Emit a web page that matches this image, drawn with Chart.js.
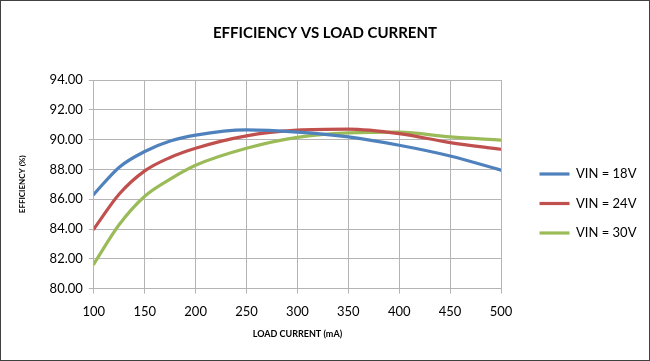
<!DOCTYPE html>
<html>
<head>
<meta charset="utf-8">
<script src="https://cdn.jsdelivr.net/npm/chart.js@4"></script>
<style>
  html, body { margin: 0; padding: 0; background: #fff; }
</style>
</head>
<body>
<canvas id="chart" width="650" height="361"></canvas>
<script>
const loadCurrent = [100, 125, 150, 175, 200, 250, 300, 350, 400, 450, 500];
const vin18 = [86.33, 88.15, 89.2, 89.9, 90.3, 90.65, 90.5, 90.18, 89.62, 88.9, 87.95];
const vin24 = [84.0, 86.35, 87.9, 88.8, 89.42, 90.25, 90.63, 90.7, 90.4, 89.8, 89.35];
const vin30 = [81.65, 84.3, 86.2, 87.35, 88.28, 89.42, 90.15, 90.45, 90.5, 90.18, 89.96];
const yTicks = [80, 82, 84, 86, 88, 90, 92, 94];
const xTicks = [100, 150, 200, 250, 300, 350, 400, 450, 500];

const seriesNames = ['VIN = 18V', 'VIN = 24V', 'VIN = 30V'];
const colors = ['#4f81bd', '#c0504d', '#9bbb59'];

function pts(vals) {
    return loadCurrent.map((x, i) => ({ x: x, y: vals[i] }));
}

// legend sits a bit away from the plot, like the original
const legendSpot = {
    id: 'legendSpot',
    beforeLayout(chart) {
        const lg = chart.legend;
        if (lg && !lg._wrapped) {
            const fit = lg.fit.bind(lg);
            lg.fit = function () { fit(); this.width = 135; };
            lg._wrapped = true;
        }
    },
    afterLayout(chart) {
        const lg = chart.legend;
        const dx = 539.5 - 16.5 - lg.left;
        const dy = 32;
        lg.left += dx;
        lg.right += dx;
        lg.top += dy;
        lg.bottom += dy;
    }
};

const frame = {
    id: 'frame',
    afterDraw(chart) {
        const ctx = chart.ctx;
        ctx.save();
        ctx.strokeStyle = '#404040';
        ctx.lineWidth = 1;
        ctx.strokeRect(0.5, 0.5, chart.width - 1, chart.height - 1);
        ctx.restore();
    }
};

const ctx = document.getElementById('chart').getContext('2d');
new Chart(ctx, {
    type: 'line',
    data: {
        datasets: [vin18, vin24, vin30].map((vals, i) => ({
            label: seriesNames[i],
            data: pts(vals),
            borderColor: colors[i],
            backgroundColor: colors[i],
            borderWidth: 3.2,
            borderCapStyle: 'round',
            pointRadius: 0,
            pointStyle: 'line',
            cubicInterpolationMode: 'monotone',
            fill: false
        }))
    },
    options: {
        responsive: false,
        animation: false,
        layout: { padding: { left: 14, right: 14, top: 0, bottom: 18 } },
        plugins: {
            title: {
                display: true,
                text: 'EFFICIENCY VS LOAD CURRENT',
                color: '#000',
                font: { family: 'Lato', size: 15, weight: 'bold' },
                padding: { top: 24, bottom: 38 }
            },
            legend: {
                position: 'right',
                labels: {
                    color: '#000',
                    font: { family: 'Lato', size: 13 },
                    usePointStyle: true,
                    pointStyleWidth: 30,
                    padding: 16.5
                }
            },
            tooltip: { enabled: false }
        },
        scales: {
            x: {
                type: 'linear',
                min: 100,
                max: 500,
                afterBuildTicks: axis => { axis.ticks = xTicks.map(v => ({ value: v })); },
                ticks: { color: '#000', font: { family: 'Lato', size: 13 }, padding: 10 },
                grid: { color: '#b4b4b4', tickLength: 5 },
                border: { color: '#b4b4b4' },
                title: {
                    display: true,
                    text: 'LOAD CURRENT (mA)',
                    color: '#000',
                    font: { family: 'Lato', size: 9, weight: 'bold' },
                    padding: { top: -1 }
                }
            },
            y: {
                min: 80,
                max: 94,
                afterBuildTicks: axis => { axis.ticks = yTicks.map(v => ({ value: v })); },
                ticks: {
                    color: '#000',
                    font: { family: 'Lato', size: 13 },
                    padding: 6,
                    callback: v => Number(v).toFixed(2)
                },
                grid: { color: '#b4b4b4', tickLength: 5 },
                border: { color: '#b4b4b4' },
                title: {
                    display: true,
                    text: 'EFFICIENCY (%)',
                    color: '#000',
                    font: { family: 'Lato', size: 8, weight: 'bold' },
                    padding: { bottom: 16 }
                }
            }
        }
    },
    plugins: [legendSpot, frame]
});
</script>
</body>
</html>
